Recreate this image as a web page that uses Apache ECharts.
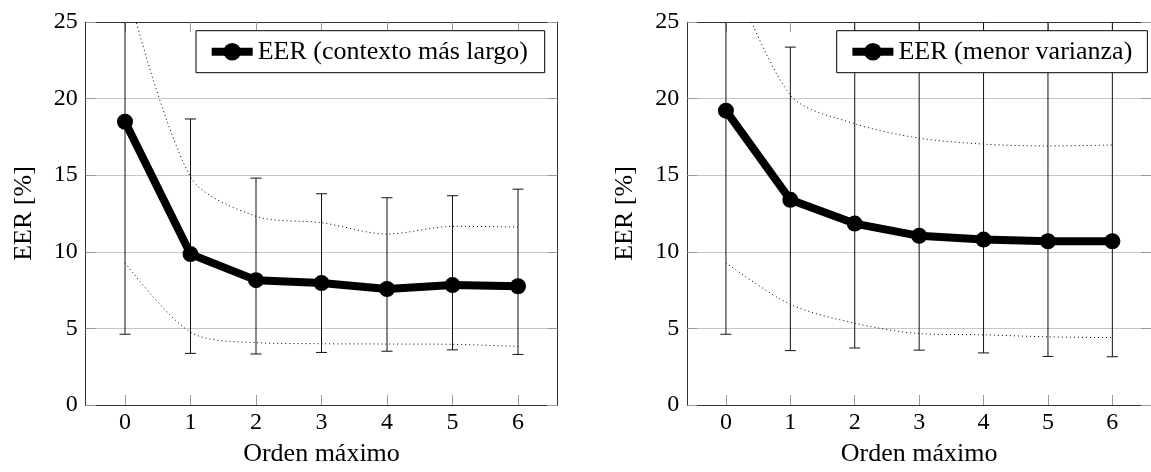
<!DOCTYPE html>
<html><head><meta charset="utf-8">
<script src="https://cdn.jsdelivr.net/npm/echarts@6/dist/echarts.min.js"></script>
<style>html,body{margin:0;padding:0;background:#fff}#c{width:1151px;height:472px}</style>
</head><body><div id="c"></div>
<script>
// ---- data ----
const xTicks = [0, 1, 2, 3, 4, 5, 6];
const yTicks = [0, 5, 10, 15, 20, 25];
const xTitle = 'Orden máximo';
const yTitle = 'EER [%]';

const leftName = 'EER (contexto más largo)';
const leftMean = [18.49, 9.85, 8.15, 7.96, 7.57, 7.83, 7.75];
const leftUpper = [27.7, 14.9, 12.32, 11.9, 11.16, 11.66, 11.62];
const leftLower = [9.28, 4.75, 4.07, 4.0, 3.98, 3.96, 3.83];
const leftErrLow = [4.62, 3.37, 3.33, 3.43, 3.51, 3.6, 3.3];
const leftErrHigh = [32.4, 18.67, 14.81, 13.79, 13.53, 13.66, 14.09];

const rightName = 'EER (menor varianza)';
const rightMean = [19.21, 13.39, 11.84, 11.04, 10.8, 10.69, 10.69];
const rightUpper = [29.1, 20.23, 18.36, 17.42, 17.03, 16.91, 16.97];
const rightLower = [9.28, 6.57, 5.34, 4.66, 4.58, 4.45, 4.40];
const rightErrLow = [4.62, 3.55, 3.72, 3.58, 3.40, 3.17, 3.15];
const rightErrHigh = [33.8, 23.36, 27.0, 26.5, 26.5, 26.8, 26.8];

// ---- chart ----
const FONT = "'Liberation Serif', 'DejaVu Serif', serif";
const chart = echarts.init(document.getElementById('c'), null, {renderer: 'canvas'});

const grids = [
  {left: 85.7, top: 22, width: 471.6, height: 391.7},
  {left: 687.3, top: 22, width: 471.6, height: 391.7}
];

function pairs(vals) { return xTicks.map((x, i) => [x, vals[i]]); }

const xAxes = [], yAxes = [];
grids.forEach((g, gi) => {
  xAxes.push({
    gridIndex: gi, type: 'value', position: 'bottom', min: -0.6, max: 6.6,
    axisLine: {show: true, onZero: false, lineStyle: {color: '#333', width: 1}},
    axisTick: {show: true, inside: true, length: 10, customValues: xTicks, lineStyle: {color: '#999', width: 1}},
    axisLabel: {customValues: xTicks, fontFamily: FONT, fontSize: 24, color: '#000', margin: 6},
    splitLine: {show: false},
    name: xTitle, nameLocation: 'middle', nameGap: 36,
    nameTextStyle: {fontFamily: FONT, fontSize: 26, color: '#000'}
  });
  xAxes.push({
    gridIndex: gi, type: 'value', position: 'top', min: -0.6, max: 6.6,
    axisLine: {show: true, onZero: false, lineStyle: {color: '#333', width: 1}},
    axisTick: {show: true, inside: true, length: 10, customValues: xTicks, lineStyle: {color: '#999', width: 1}},
    axisLabel: {show: false, customValues: xTicks},
    splitLine: {show: false}
  });
  yAxes.push({
    gridIndex: gi, type: 'value', position: 'left', min: yTicks[0], max: yTicks[yTicks.length - 1], interval: 5,
    axisLine: {show: true, onZero: false, lineStyle: {color: '#333', width: 1}},
    axisTick: {show: true, inside: true, length: 10, lineStyle: {color: '#999', width: 1}},
    axisLabel: {fontFamily: FONT, fontSize: 24, color: '#000', margin: 8},
    splitLine: {show: true, lineStyle: {color: '#c6c6c6', width: 1}},
    name: yTitle, nameLocation: 'middle', nameGap: 49, nameRotate: 90,
    nameTextStyle: {fontFamily: FONT, fontSize: 26, color: '#000'}
  });
  yAxes.push({
    gridIndex: gi, type: 'value', position: 'right', min: yTicks[0], max: yTicks[yTicks.length - 1], interval: 5,
    axisLine: {show: true, onZero: false, lineStyle: {color: '#333', width: 1}},
    axisTick: {show: true, inside: true, length: 10, lineStyle: {color: '#999', width: 1}},
    axisLabel: {show: false},
    splitLine: {show: false}
  });
});

function errorSeries(gi, low, high) {
  return {
    type: 'custom', xAxisIndex: gi * 2, yAxisIndex: gi * 2, clip: true, z: 3, silent: true,
    data: xTicks.map((x, i) => [x, low[i], high[i]]),
    encode: {x: 0, y: [1, 2]},
    renderItem: function (params, api) {
      const x = api.value(0);
      const lo = api.coord([x, api.value(1)]);
      const hi = api.coord([x, api.value(2)]);
      const hw = 5.5;
      const st = {stroke: '#111', lineWidth: 1, fill: null};
      return {type: 'group', children: [
        {type: 'line', shape: {x1: lo[0], y1: lo[1], x2: hi[0], y2: hi[1]}, style: st},
        {type: 'line', shape: {x1: lo[0] - hw, y1: lo[1], x2: lo[0] + hw, y2: lo[1]}, style: st},
        {type: 'line', shape: {x1: hi[0] - hw, y1: hi[1], x2: hi[0] + hw, y2: hi[1]}, style: st}
      ]};
    }
  };
}
function dottedSeries(gi, vals) {
  return {
    type: 'line', xAxisIndex: gi * 2, yAxisIndex: gi * 2, data: pairs(vals),
    symbol: 'none', smooth: 0.3, clip: true, silent: true, z: 2,
    lineStyle: {type: [1, 3], width: 1, color: '#000'}
  };
}
function meanSeries(gi, name, vals) {
  return {
    type: 'line', name: name, xAxisIndex: gi * 2, yAxisIndex: gi * 2, data: pairs(vals),
    symbol: 'circle', symbolSize: 16, clip: true, z: 5,
    lineStyle: {width: 8, color: '#000'}, itemStyle: {color: '#000'}
  };
}

function legendFor(name, left, textW) {
  return {
    data: [name], left: left, top: 30.7, padding: [8, 14, 8, 11.7],
    itemWidth: 41, itemHeight: 22, selectedMode: false,
    backgroundColor: '#fff', borderColor: '#000', borderWidth: 1, borderRadius: 0,
    lineStyle: {width: 8},
    textStyle: {fontFamily: FONT, fontSize: 26, color: '#000', lineHeight: 24, width: textW}
  };
}

chart.setOption({
  animation: false,
  backgroundColor: '#fff',
  grid: grids,
  xAxis: xAxes,
  yAxis: yAxes,
  legend: [legendFor(leftName, 196, 273), legendFor(rightName, 836.7, 235)],
  series: [
    errorSeries(0, leftErrLow, leftErrHigh),
    dottedSeries(0, leftUpper),
    dottedSeries(0, leftLower),
    meanSeries(0, leftName, leftMean),
    errorSeries(1, rightErrLow, rightErrHigh),
    dottedSeries(1, rightUpper),
    dottedSeries(1, rightLower),
    meanSeries(1, rightName, rightMean)
  ]
});
</script>
</body></html>
